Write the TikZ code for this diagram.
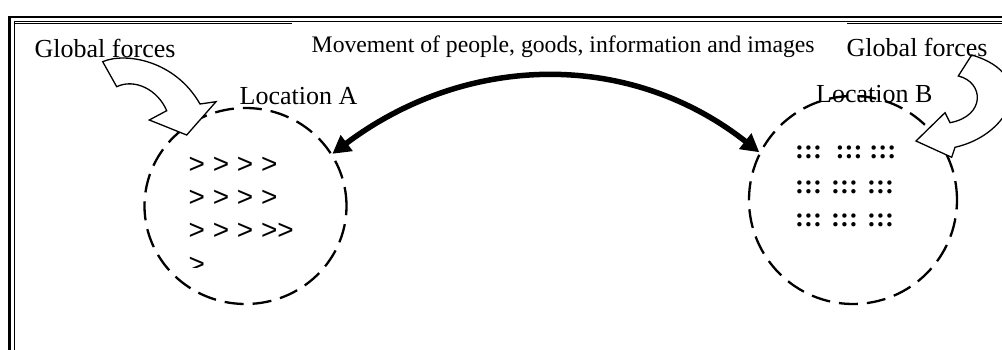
\documentclass[tikz,border=0pt]{standalone}
\usepackage{fontspec}
\setmainfont{Liberation Serif}
\newfontfamily\arrowfont{Liberation Sans}
\usepackage{tikz}
\usetikzlibrary{shapes.geometric, arrows.meta, positioning}

\tikzset{
  locring/.style={draw, ellipse, line width=2.3pt, dash pattern=on 19pt off 9pt, inner sep=0pt},
  forcearrow/.style={draw, fill=white, line width=1.3pt, line join=miter},
  movearrow/.style={line width=5.5pt, {Triangle[length=18pt,width=19pt]}-{Triangle[length=18pt,width=19pt]}},
  lbl/.style={anchor=base west, inner sep=0pt, font=\fontsize{26}{30}\selectfont},
  gtrow/.style={anchor=base west, inner sep=0pt, font=\arrowfont\fontsize{28}{32}\selectfont},
  dotrow/.style={anchor=base west, inner sep=0pt, font=\bfseries\fontsize{27}{30}\selectfont}
}

\begin{document}
\begin{tikzpicture}[x=1pt, y=-1pt]
  \path[use as bounding box, clip] (0,0) rectangle (1002,350);

  % frame
  \draw[line width=2.7pt] (9.7,17) rectangle (1100,420);
  \draw[line width=1.4pt] (14.2,21.3) rectangle (1095,415);
  \draw[line width=1.6pt] (14.2,23.5) -- (292,23.5);
  \draw[line width=1.6pt] (847,23.5) -- (1010,23.5);

  % the two locations
  \node[locring, minimum width=202pt, minimum height=196pt] (locA) at (245.5,206) {};
  \node[locring, minimum width=208pt, minimum height=208pt] (locB) at (853,200) {};

  % movement between them
  \draw[movearrow] (locA.31) .. controls +(133,-100) and +(-131,-103) .. (locB.153);

  % global forces
  \draw[forcearrow] (102.7,61.7) .. controls (125,52) and (175,60) .. (200,104)
    -- (216,101.7) -- (186.7,135) -- (149.3,120) -- (166.7,110.7)
    .. controls (158,90) and (135,78) .. (116.7,86.7) -- cycle;
  \draw[forcearrow] (971.7,55) -- (958.3,76) .. controls (984,82) and (986,116) .. (950,122.7)
    -- (945,112.7) -- (916,141) -- (951.7,157.3) -- (955,147.3)
    .. controls (1010,135) and (1040,75) .. cycle;

  % labels
  \node[lbl] (gfA) at (34.5,58) {Global forces};
  \node[lbl] (gfB) at (846.5,57) {Global forces};
  \node[lbl] (labA) at (239.5,105) {Location A};
  \node[lbl] (labB) at (816,103) {Location B};
  \node[anchor=base west, inner sep=0pt, font=\fontsize{23.7}{28}\selectfont] (movetext) at (311.5,53)
    {Movement of people, goods, information and images};

  % contents of A
  \foreach \r/\y/\t in {1/174/{> > > >}, 2/207/{> > > >}, 3/240/{> > > >>}}
    \node[gtrow] (rowA\r) at (188.5,\y) {\t};
  \begin{scope}
    \clip (180,245) rectangle (260,267.5);
    \node[gtrow] (rowA4) at (188.5,273) {>};
  \end{scope}

  % contents of B
  \foreach \r/\y/\t in {1/158.5/{:::\ \ :::\ :::}, 2/193.5/{::: ::: :::}, 3/226.5/{::: ::: :::}}
    \node[dotrow] (rowB\r) at (795,\y) {\t};
\end{tikzpicture}
\end{document}
